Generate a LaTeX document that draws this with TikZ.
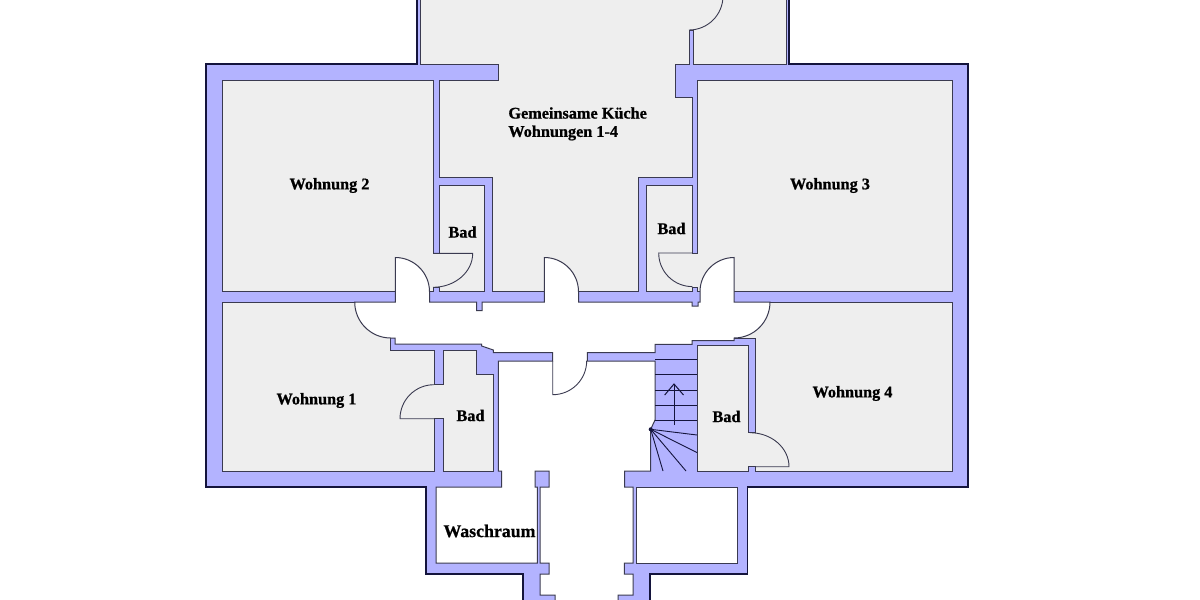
\documentclass[tikz,border=0pt]{standalone}
\usepackage{fontspec}
\setmainfont{Liberation Serif}[BoldFeatures={FakeBold=0.9}]
\definecolor{wallblue}{HTML}{B3B3FF}
\definecolor{roomgray}{HTML}{EEEEEE}
\definecolor{outline}{HTML}{14143C}
\definecolor{thinline}{HTML}{3A3A50}
\begin{document}
\begin{tikzpicture}[
    x=0.5pt,y=-0.5pt,
    wall/.style={fill=wallblue},
    room/.style={fill=roomgray,draw=thinline,line width=.5pt},
    open/.style={fill=white,draw=thinline,line width=.5pt},
    leaf/.style={draw=thinline,line width=.45pt},
    tread/.style={draw=outline,line width=.45pt},
    label/.style={font=\fontsize{8.12}{9.6}\selectfont\bfseries,inner sep=0pt}
    ]
    \useasboundingbox (0, 0) rectangle (1200, 600);
    \fill[white] (0, 0) rectangle (1200, 600);
    % walls
    \path[wall] (206, 64) -- (417, 64) -- (417, -5) -- (789, -5) -- (789, 64) -- (968, 64) -- (968, 487)
      -- (747.5, 487) -- (747.5, 574) -- (650, 574) -- (650, 605) -- (523, 605) -- (523, 574)
      -- (426, 574) -- (426, 487) -- (206, 487) -- cycle;
    % rooms
    \draw[room] (420, -5) -- (420, 64) -- (498.7, 64) -- (498.7, 80) -- (439, 80) -- (439, 177) -- (492.7, 177)
      -- (492.7, 291.7) -- (638, 291.7) -- (638, 177) -- (692.7, 177) -- (692.7, 97) -- (675, 97) -- (675, 64)
      -- (689, 64) -- (689, 30) -- (693, 30) -- (693, 64) -- (786, 64) -- (786, -5) -- cycle;
    \draw[room] (222, 80) -- (433, 80) -- (433, 253.3) -- (439, 253.3) -- (439, 185.7) -- (484, 185.7)
      -- (484, 291.7) -- (439, 291.7) -- (439, 287) -- (433, 287) -- (433, 291.7) -- (222, 291.7) -- cycle;
    \draw[room] (697, 80) -- (952, 80) -- (952, 291.7) -- (697, 291.7) -- (697, 287) -- (692.3, 287)
      -- (692.3, 291.7) -- (646.7, 291.7) -- (646.7, 185.7) -- (692.3, 185.7) -- (692.3, 253) -- (697, 253) -- cycle;
    \draw[room] (222, 302) -- (390.7, 302) -- (390.7, 350) -- (434, 350) -- (434, 384.3) -- (443.3, 384.3)
      -- (443.3, 350) -- (476.7, 350) -- (476.7, 374.3) -- (493.3, 374.3) -- (493.3, 471) -- (443.3, 471)
      -- (443.3, 418.7) -- (434, 418.7) -- (434, 471) -- (222, 471) -- cycle;
    \draw[room] (734, 302) -- (952, 302) -- (952, 471) -- (755, 471) -- (755, 466.7) -- (748, 466.7) -- (748, 471)
      -- (697, 471) -- (697, 345) -- (748, 345) -- (748, 432.7) -- (755, 432.7) -- (755, 338) -- (734, 338) -- cycle;
    \draw[open] (636, 487) rectangle (737, 563);
    % corridor and hall
    \draw[open] (354.7, 302) -- (395.3, 302) -- (395.3, 257.5) arc[start angle=-90, end angle=0, radius=34.2]
      -- (429.5, 302) -- (476.7, 302) -- (476.7, 310.7) -- (482, 310.7) -- (482, 302) -- (544.3, 302) -- (544.3, 257.5)
      arc[start angle=-90, end angle=0, radius=34.2] -- (578.5, 302) -- (692, 302) -- (692, 306) -- (698, 306)
      -- (698, 302) -- (700, 302) -- (700, 291.7) arc[start angle=180, end angle=270, radius=34.2] -- (734, 302) -- (770, 302)
      arc[start angle=0, end angle=90, radius=36] -- (734, 340.7) -- (692, 340.7) -- (692, 344.3) -- (655, 344.3)
      -- (655, 352.7) -- (587.3, 352.7) -- (587.3, 361) -- (655, 361) -- (655, 420) -- (650.7, 429.3) -- (650.7, 471)
      -- (624.7, 471) -- (624.7, 487) -- (633, 487) -- (633, 563) -- (624.3, 563) -- (624.3, 574) -- (633, 574)
      -- (633, 595) -- (618, 595) -- (618, 605) -- (555, 605) -- (555, 595) -- (540, 595) -- (540, 574) -- (549, 574)
      -- (549, 563) -- (540, 563) -- (540, 487) -- (549, 487) -- (549, 471) -- (535, 471) -- (535, 487) -- (537.3, 487)
      -- (537.3, 563) -- (436, 563) -- (436, 487) -- (501.7, 487) -- (501.7, 471) -- (498.3, 471) -- (498.3, 361)
      -- (552.7, 361) -- (552.7, 352.7) -- (493.3, 352.7) -- (493.3, 350) -- (481.7, 346) -- (481.7, 344) -- (395, 344)
      -- (395, 338) -- (390.7, 338) arc[start angle=90, end angle=180, radius=36] -- cycle;
    % door leaves
    \draw[leaf] (552.7, 361) -- (552.7, 394.7) arc[start angle=90, end angle=0, radius=34];
    \draw[leaf] (434, 418.7) -- (400, 418.7) arc[start angle=180, end angle=270, radius=34];
    \draw[leaf] (433, 253.3) -- (472.7, 253.3) arc[start angle=0, end angle=90, x radius=39.7, y radius=34];
    \draw[leaf] (692.3, 253) -- (658.7, 253) arc[start angle=180, end angle=90, radius=33.6];
    \draw[leaf] (755, 466.7) -- (789, 466.7) arc[start angle=0, end angle=-90, x radius=39, y radius=34];
    \draw[leaf] (689, 30) arc[start angle=90, end angle=0, radius=34];
    % stairs
    \foreach \y in {359.5, 374.5, 390, 405, 420.7}
      \draw[tread] (655, \y) -- (697, \y);
    \draw[tread] (650.7, 429.3) -- (697, 435);
    \draw[tread] (650.7, 429.3) -- (697, 452.6);
    \draw[tread] (650.7, 429.3) -- (686, 471);
    \draw[tread] (650.7, 429.3) -- (663, 471);
    \fill[outline] (650.7, 429.3) circle (2);
    \draw[outline, line width=.5pt] (674, 425) -- (674, 384);
    \draw[outline, line width=.5pt] (664.7, 395) -- (674, 384) -- (683.5, 395);
    % outer line
    \draw[outline, line width=.8pt, line cap=rect] (417, -5) -- (417, 64) -- (206, 64) -- (206, 487) -- (426, 487)
      -- (426, 574) -- (523, 574) -- (523, 595);
    \draw[outline, line width=.8pt, line cap=rect] (789, -5) -- (789, 64) -- (968, 64) -- (968, 487) -- (747.5, 487)
      -- (747.5, 574) -- (650, 574) -- (650, 605);
    \draw[outline, line width=.8pt] (523, 595) -- (523, 605);
    % labels
    \node[label, anchor=west] (kueche) at (508, 113) {Gemeinsame Küche};
    \node[label, anchor=west] (kueche2) at (508, 133) {Wohnungen 1-4};
    \node[label] (wohnung2) at (329.5, 185.5) {Wohnung 2};
    \node[label] (wohnung3) at (830, 185.5) {Wohnung 3};
    \node[label] (wohnung1) at (316.5, 400.5) {Wohnung 1};
    \node[label] (wohnung4) at (852.5, 393.5) {Wohnung 4};
    \node[label] (bad2) at (462.5, 232) {Bad};
    \node[label] (bad3) at (671.5, 228.5) {Bad};
    \node[label] (bad1) at (470.5, 415.5) {Bad};
    \node[label] (bad4) at (726.5, 416.5) {Bad};
    \node[label, font=\fontsize{8.9}{10}\selectfont\bfseries] (waschraum) at (489.5, 531) {Waschraum};
  \end{tikzpicture}
\end{document}
